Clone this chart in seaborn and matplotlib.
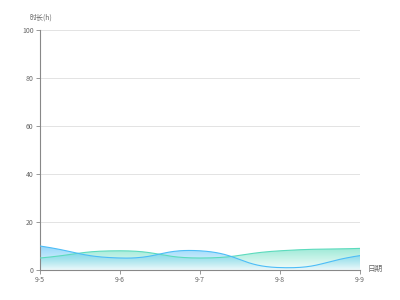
import numpy as np
import pandas as pd
import matplotlib
matplotlib.use("Agg")
import matplotlib.pyplot as plt
from matplotlib.colors import LinearSegmentedColormap
import seaborn as sns

dates = ["9-5", "9-6", "9-7", "9-8", "9-9"]
series_a = [10, 5, 8, 1, 6]      # blue
series_b = [5, 8, 5, 8, 9]       # green
y_ticks = [0, 20, 40, 60, 80, 100]

sns.set_theme(style="white")
plt.rcParams["font.family"] = ["Noto Sans CJK SC", "DejaVu Sans"]

fig = plt.figure(figsize=(4, 3), dpi=100)
ax = fig.add_axes([0.1, 0.1, 0.8, 0.8])

SX, SY = 80.0, 2.4  # pixel scale for smoothing


def smooth_curve(xs, ys, smooth=0.5, n=40):
    px = np.asarray(xs, float) * SX
    py = np.asarray(ys, float) * SY
    m = len(px)
    cps = []
    for i in range(m):
        p = np.array([px[i], py[i]])
        pp = np.array([px[i - 1], py[i - 1]]) if i > 0 else p
        pn = np.array([px[i + 1], py[i + 1]]) if i < m - 1 else p
        v = pn - pp
        d0 = np.linalg.norm(p - pp)
        d1 = np.linalg.norm(pn - p)
        r = d0 / (d0 + d1) if (d0 + d1) > 0 else 0.5
        c0 = p - v * smooth * r
        c1 = p + v * smooth * (1 - r)
        cps.append((c0, c1))
    outx, outy = [], []
    t = np.linspace(0, 1, n)
    for i in range(m - 1):
        P0 = np.array([px[i], py[i]])
        P3 = np.array([px[i + 1], py[i + 1]])
        P1 = cps[i][1]
        P2 = cps[i + 1][0]
        b = ((1 - t) ** 3)[:, None] * P0 + (3 * (1 - t) ** 2 * t)[:, None] * P1 \
            + (3 * (1 - t) * t ** 2)[:, None] * P2 + (t ** 3)[:, None] * P3
        if i > 0:
            b = b[1:]
        outx.extend(b[:, 0] / SX)
        outy.extend(b[:, 1] / SY)
    return np.array(outx), np.array(outy)


x_idx = np.arange(len(dates))
specs = [
    (series_b, (0.36, 0.86, 0.74), "B"),
    (series_a, (0.30, 0.74, 0.97), "A"),
]

for vals, col, name in specs:
    sx, sy = smooth_curve(x_idx, vals)
    poly = ax.fill_between(sx, 0, sy, color="none", lw=0)
    top = max(vals)
    cmap = LinearSegmentedColormap.from_list(
        "g" + name, [(*col, 0.05), (*col, 0.6)])
    grad = np.linspace(0, 1, 256).reshape(-1, 1)
    im = ax.imshow(grad, cmap=cmap, aspect="auto", origin="lower",
                   extent=[0, len(dates) - 1, 0, top], zorder=2)
    im.set_clip_path(poly.get_paths()[0], transform=ax.transData)
    df = pd.DataFrame({"x": sx, "y": sy})
    sns.lineplot(data=df, x="x", y="y", ax=ax, color=col, lw=0.8,
                 sort=False, zorder=3)

ax.set_xlim(0, len(dates) - 1)
ax.set_ylim(0, 100)
ax.set_xticks(x_idx)
ax.set_xticklabels(dates)
ax.set_yticks(y_ticks)
ax.set_yticklabels([str(v) for v in y_ticks])
ax.set_xlabel("")
ax.set_ylabel("")
for v in y_ticks[1:]:
    ax.axhline(v, color="#e3e3e3", lw=0.7, zorder=0)

for s in ["top", "right"]:
    ax.spines[s].set_visible(False)
for s in ["left", "bottom"]:
    ax.spines[s].set_color("#888888")
    ax.spines[s].set_linewidth(0.8)
ax.tick_params(axis="both", which="both", length=3, width=0.6,
               color="#888888", labelsize=5, labelcolor="#666666", pad=1.5,
               direction="out", bottom=True, left=True)

fig.text(0.075, 0.94, "时长(h)", fontsize=5, color="#666666", ha="left", va="center")
fig.text(0.918, 0.105, "日期", fontsize=5.5, color="#666666", ha="left", va="center")

fig.savefig("out.png", dpi=100)
